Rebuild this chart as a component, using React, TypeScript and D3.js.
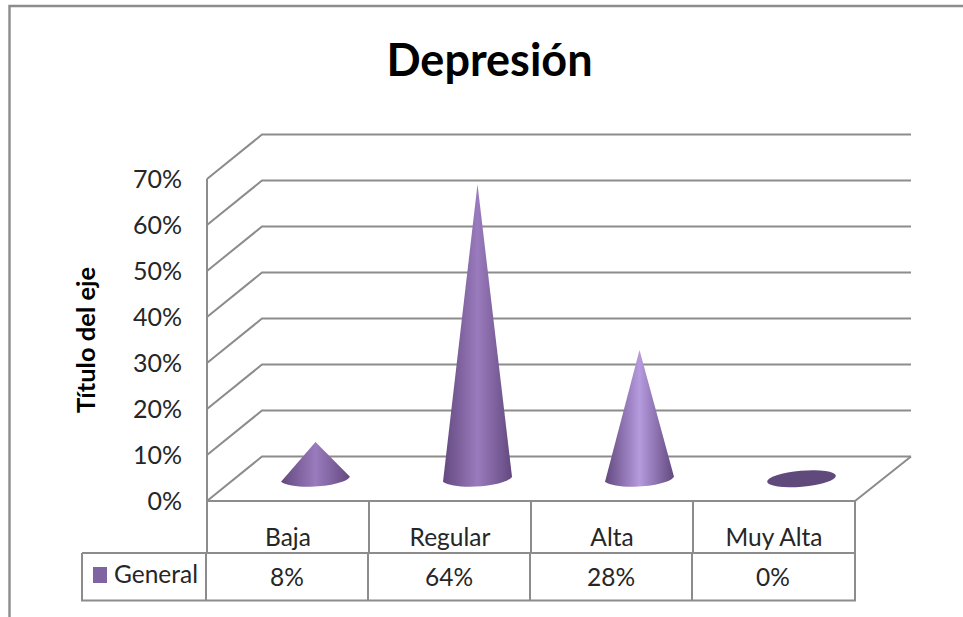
import React from "react";
import * as d3 from "d3";

const categories = ["Baja", "Regular", "Alta", "Muy Alta"];
const values = [8, 64, 28, 0];
const valueLabels = ["8%", "64%", "28%", "0%"];
const seriesName = "General";
const ticks = [0, 10, 20, 30, 40, 50, 60, 70];
const title = "Depresión";
const axisTitle = "Título del eje";

const FONT = "Lato, 'Open Sans', sans-serif";
const GRID = "#8c8c8c";
const TEXT = "#262626";

const x = d3.scaleBand<string>().domain(categories).range([207, 855]);
const y = d3.scaleLinear().domain([0, 70]).range([501, 179]);
const depthX = 55;
const depthY = -44.5;

const ConeStops = ({ id, mid }: { id: string; mid: string }) => (
  <linearGradient id={id} x1="0" x2="1" y1="0" y2="0">
    <stop offset="0" stopColor="#63497f" />
    <stop offset="0.5" stopColor={mid} />
    <stop offset="1" stopColor="#63497f" />
  </linearGradient>
);

const midColors = ["#9a7bbd", "#9a7bbd", "#b59ade", "#9a7bbd"];

export default function App() {
  const x0 = x.range()[0];
  const x1 = x.range()[1];
  const band = x.bandwidth();
  const tableTop = y(0);
  const rowSplit = 553;
  const tableBottom = 600.5;
  const legendLeft = 82;
  const edges = categories.map((c) => x(c) as number).concat(x1);
  const baseRx = 34.5;

  return (
    <svg
      width={963}
      height={617}
      style={{ position: "absolute", left: 0, top: 0, background: "#fff" }}
      fontFamily={FONT}
    >
      <defs>
        {categories.map((c, i) => (
          <ConeStops key={c} id={`cone-${i}`} mid={midColors[i]} />
        ))}
      </defs>

      {/* chart frame */}
      <path d="M9.5,617V6H963" fill="none" stroke="#8c8c8c" strokeWidth={2.4} />

      <text x={489.5} y={76} textAnchor="middle" fontSize={45} fontWeight={700} fill="#000">
        {title}
      </text>

      {/* gridlines on the side and back walls */}
      {ticks.map((t) => (
        <path
          key={t}
          d={`M${x0},${y(t)}L${x0 + depthX},${y(t) + depthY}H${x1 + depthX + 1}`}
          fill="none"
          stroke={GRID}
          strokeWidth={2}
        />
      ))}
      <path
        d={`M${x0},${y(70)}V${y(0)}H${x1}L${x1 + depthX + 1},${y(0) + depthY}`}
        fill="none"
        stroke={GRID}
        strokeWidth={2}
      />

      {ticks.map((t) => (
        <text key={t} x={182} y={y(t) + 9} textAnchor="end" fontSize={25} fill={TEXT}>
          {t}%
        </text>
      ))}

      <text
        transform="translate(95,340) rotate(-90)"
        textAnchor="middle"
        fontSize={25.5}
        fontWeight={700}
        fill="#000"
      >
        {axisTitle}
      </text>

      {/* cones stand halfway along the floor's depth */}
      {categories.map((c, i) => {
        const cx = (x(c) as number) + band / 2 + depthX / 2;
        const cy = y(0) + depthY / 2;
        const h = y(0) - y(values[i]);
        if (values[i] === 0) {
          return (
            <ellipse
              key={c}
              cx={cx}
              cy={cy}
              rx={baseRx}
              ry={8}
              transform={`rotate(-5 ${cx} ${cy})`}
              fill="#604a7b"
            />
          );
        }
        const apexY = cy - h;
        const d = d3.path();
        d.moveTo(cx, apexY);
        d.lineTo(cx + baseRx, cy - 2);
        d.bezierCurveTo(cx + baseRx - 6, cy + 8, cx - baseRx + 12, cy + 12, cx - baseRx, cy + 3);
        d.closePath();
        return <path key={c} d={d.toString()} fill={`url(#cone-${i})`} />;
      })}

      {/* data table below the plot */}
      <path
        d={`M${legendLeft},${rowSplit}H${x1}V${tableTop}M${legendLeft},${rowSplit}V${tableBottom}H${x1}V${rowSplit}`}
        fill="none"
        stroke={GRID}
        strokeWidth={2}
      />
      {edges.slice(0, -1).map((e) => (
        <g key={e}>
          <line x1={e} x2={e} y1={tableTop} y2={rowSplit} stroke={GRID} strokeWidth={2} />
          <line x1={e - 1} x2={e - 1} y1={rowSplit} y2={tableBottom} stroke={GRID} strokeWidth={2} />
        </g>
      ))}
      {categories.map((c, i) => (
        <g key={c} textAnchor="middle" fontSize={24.5} fill={TEXT}>
          <text x={edges[i] + band / 2} y={546}>
            {c}
          </text>
          <text x={edges[i] + band / 2 - 1} y={586}>
            {valueLabels[i]}
          </text>
        </g>
      ))}
      <rect x={93} y={567} width={14} height={16} fill="#8064a2" />
      <text x={114} y={583} fontSize={24.5} fill={TEXT}>
        {seriesName}
      </text>
    </svg>
  );
}
